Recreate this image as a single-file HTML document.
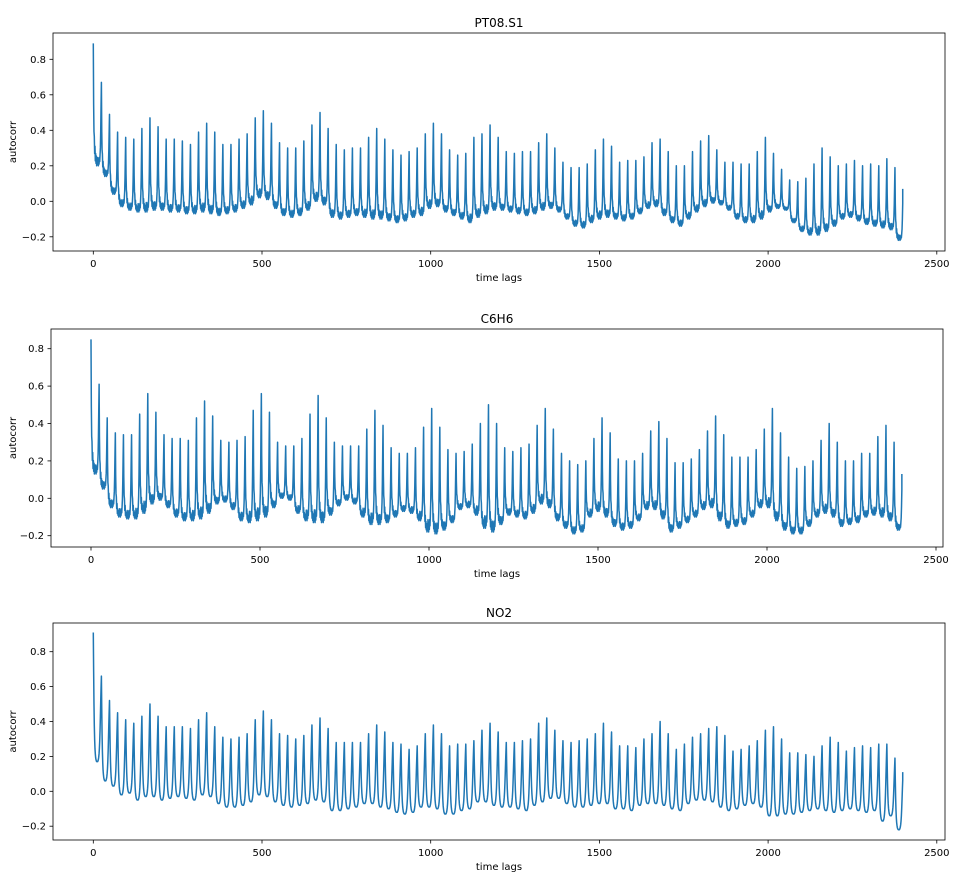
<!DOCTYPE html>
<html><head><meta charset="utf-8">
<style>
html,body{margin:0;padding:0;background:#fff;}
svg{display:block;font-family:"DejaVu Sans","Liberation Sans",sans-serif;}
</style></head>
<body>
<svg id="fig" width="972" height="896" viewBox="0 0 972 896" xmlns="http://www.w3.org/2000/svg"></svg>
<script>
// ---- data ----
const xTicks = [0, 500, 1000, 1500, 2000, 2500];
const yTicks = [-0.2, 0.0, 0.2, 0.4, 0.6, 0.8];
const titles = ["PT08.S1", "C6H6", "NO2"];

const peaksPT = [0.89,
 0.67,0.49,0.39,0.36,0.35,0.41,0.47,0.42,0.35,0.35,0.34,0.32,0.39,0.44,0.39,0.32,0.32,0.35,0.38,0.47,
 0.51,0.44,0.33,0.30,0.30,0.34,0.43,0.50,0.41,0.32,0.29,0.30,0.30,0.36,0.41,0.35,0.29,0.26,0.28,0.30,
 0.38,0.44,0.38,0.29,0.26,0.27,0.36,0.38,0.43,0.36,
 0.28,0.27,0.28,0.28,0.33,0.38,0.30,0.22,0.19,0.19,0.21,0.29,0.35,0.31,0.22,0.23,0.23,0.25,0.33,0.35,
 0.28,0.20,0.20,0.28,0.34,0.37,0.29,0.22,0.22,0.21,0.21,0.28,0.36,0.27,0.18,0.12,0.11,0.13,0.21,0.30,
 0.25,0.20,0.21,0.23,0.20,0.21,0.20,0.24,0.19];
const troughsPT = [0.20,0.14,0.04,-0.03,
 -0.05,-0.06,-0.06,-0.05,-0.05,-0.06,-0.06,-0.07,-0.07,-0.06,-0.07,-0.08,-0.07,-0.06,
 -0.04,-0.02,0.02,0.01,
 -0.04,-0.08,-0.09,-0.08,-0.05,0.00,-0.02,
 -0.09,-0.10,-0.09,-0.08,-0.09,-0.10,-0.10,-0.11,-0.12,-0.11,-0.09,-0.08,
 -0.04,-0.03,-0.06,-0.08,
 -0.10,-0.12,-0.09,-0.07,-0.05,-0.05,
 -0.06,-0.07,-0.08,-0.07,-0.05,-0.04,-0.06,
 -0.10,-0.14,-0.15,-0.12,-0.10,-0.09,-0.10,-0.11,-0.10,
 -0.07,-0.04,-0.03,
 -0.08,-0.12,-0.14,-0.10,-0.06,
 -0.03,-0.01,-0.02,-0.05,
 -0.10,-0.12,-0.12,-0.10,
 -0.06,-0.04,-0.05,
 -0.12,-0.17,-0.19,-0.19,-0.17,-0.14,
 -0.10,-0.09,-0.11,-0.13,
 -0.14,-0.15,-0.16,-0.22];
const endPT = 0.07;

const peaksC6 = [0.85,
 0.61,0.43,0.35,0.34,0.34,0.45,0.56,0.46,0.34,0.32,0.32,0.31,0.43,0.52,0.44,0.31,0.30,0.31,0.33,0.47,
 0.56,0.46,0.30,0.28,0.28,0.32,0.45,0.55,0.43,0.30,0.28,0.28,0.28,0.37,0.47,0.39,0.27,0.24,0.24,0.27,
 0.38,0.48,0.38,0.26,0.24,0.25,0.29,0.40,0.50,0.40,
 0.27,0.25,0.27,0.29,0.39,0.48,0.37,0.24,0.20,0.18,0.20,0.32,0.43,0.35,0.21,0.20,0.20,0.24,0.36,0.41,
 0.32,0.19,0.19,0.21,0.26,0.36,0.44,0.34,0.22,0.22,0.22,0.26,0.37,0.48,0.35,0.22,0.16,0.17,0.20,0.31,
 0.40,0.30,0.20,0.20,0.24,0.24,0.33,0.39,0.30];
const troughsC6 = [0.13,0.05,-0.05,-0.10,-0.11,-0.11,-0.08,-0.03,-0.01,-0.05,
 -0.10,-0.12,-0.12,-0.11,-0.08,-0.03,-0.02,-0.06,-0.12,-0.13,
 -0.12,-0.10,-0.05,0.00,-0.01,-0.08,-0.12,-0.13,-0.13,-0.09,
 -0.04,-0.01,-0.03,-0.10,-0.14,-0.14,-0.13,-0.10,-0.07,-0.08,
 -0.12,-0.18,-0.19,-0.17,-0.13,-0.06,-0.05,-0.09,-0.16,-0.18,-0.14,
 -0.09,-0.10,-0.11,-0.08,-0.03,-0.05,-0.12,-0.16,-0.19,-0.18,
 -0.10,-0.07,-0.10,-0.15,-0.17,-0.16,-0.12,-0.06,-0.06,-0.11,
 -0.18,-0.16,-0.13,-0.10,-0.06,-0.05,-0.12,-0.16,-0.15,-0.14,
 -0.10,-0.05,-0.05,-0.12,-0.17,-0.19,-0.19,-0.15,-0.10,-0.08,
 -0.10,-0.15,-0.14,-0.13,-0.10,-0.09,-0.10,-0.12,-0.17];
const endC6 = 0.13;

const peaksNO2 = [0.91,
 0.66,0.52,0.45,0.41,0.39,0.43,0.50,0.43,0.37,0.37,0.37,0.36,0.41,0.45,0.37,0.31,0.30,0.31,0.33,0.41,
 0.46,0.41,0.33,0.32,0.30,0.32,0.38,0.42,0.36,0.28,0.28,0.28,0.28,0.33,0.38,0.34,0.28,0.27,0.24,0.26,
 0.33,0.38,0.33,0.26,0.27,0.27,0.29,0.35,0.39,0.34,
 0.28,0.28,0.29,0.30,0.39,0.42,0.35,0.29,0.28,0.29,0.30,0.33,0.39,0.34,0.26,0.26,0.25,0.30,0.33,0.40,
 0.33,0.24,0.27,0.31,0.33,0.36,0.37,0.32,0.23,0.24,0.26,0.29,0.35,0.37,0.30,0.22,0.22,0.21,0.20,0.26,
 0.31,0.28,0.23,0.25,0.26,0.25,0.27,0.27,0.19];
const troughsNO2 = [0.17,0.06,0.03,-0.02,-0.01,-0.05,-0.03,-0.03,-0.05,-0.04,
 -0.03,-0.04,-0.05,-0.02,-0.03,-0.07,-0.09,-0.09,-0.08,-0.06,
 -0.02,-0.03,-0.06,-0.08,-0.09,-0.08,-0.07,-0.05,-0.06,-0.11,
 -0.11,-0.10,-0.09,-0.07,-0.07,-0.09,-0.10,-0.12,-0.13,-0.12,
 -0.09,-0.09,-0.10,-0.13,-0.13,-0.11,-0.10,-0.06,-0.06,-0.08,-0.09,
 -0.09,-0.10,-0.11,-0.08,-0.06,-0.04,-0.04,-0.07,-0.09,-0.09,
 -0.08,-0.07,-0.07,-0.10,-0.10,-0.11,-0.08,-0.07,-0.07,-0.08,
 -0.10,-0.11,-0.07,-0.05,-0.05,-0.06,-0.09,-0.11,-0.10,-0.08,
 -0.07,-0.09,-0.14,-0.14,-0.13,-0.13,-0.12,-0.11,-0.10,-0.11,
 -0.12,-0.11,-0.10,-0.11,-0.12,-0.11,-0.17,-0.14,-0.22];
const endNO2 = 0.11;

// ---- cycle shape templates (style only) ----
const PERIOD = 24, LAST = 2399, HALF = 12;
const jagged = [1,0.5,0.28,0.24,0.1,0.16,0.04,0.1,0.02,0.08,0,0.06,0.03,0.1,0.04,0.0,0.08,0.02,0.1,0.05,0.13,0.22,0.42,0.72];
const smooth = [1,0.7,0.45,0.28,0.17,0.1,0.06,0.03,0.015,0.005,0,0,0,0,0.01,0.025,0.05,0.09,0.15,0.24,0.37,0.53,0.7,0.86];

const panels = [
  {name:"pt08-s1", title:titles[0], peaks:peaksPT, troughs:troughsPT, end:endPT, tpl:jagged,
   L:53, R:945, T:33, B:251, x0:93.3, x500:262, y0:201.3, yU:177.5},
  {name:"c6h6", title:titles[1], peaks:peaksC6, troughs:troughsC6, end:endC6, tpl:jagged,
   L:51, R:943, T:329, B:547, x0:91, x500:260, y0:498.3, yU:187},
  {name:"no2", title:titles[2], peaks:peaksNO2, troughs:troughsNO2, end:endNO2, tpl:smooth,
   L:53, R:945, T:623, B:840, x0:93.3, x500:262, y0:791.3, yU:174.5}
];

const NS = "http://www.w3.org/2000/svg";
const svg = document.getElementById("fig");
function mk(tag, attrs, parent){
  const e = document.createElementNS(NS, tag);
  for (const k in attrs) e.setAttribute(k, attrs[k]);
  (parent||svg).appendChild(e);
  return e;
}
function fmt(v){ const s = Math.abs(v).toFixed(1); return (v < -1e-9 ? "\u2212" : "") + s; }

panels.forEach(p => {
  const xs = v => p.x0 + (p.x500 - p.x0) * v / 500;
  const ys = v => p.y0 - p.yU * v;
  const g = mk("g", {});
  
  

  // series
  let d = "";
  const n = p.peaks.length;
  for (let k = 0; k < n; k++) {
    const pk = p.peaks[k], tr = p.troughs[k];
    const nextPk = k + 1 < n ? p.peaks[k + 1] : p.end;
    for (let t = 0; t < PERIOD; t++) {
      const lag = k * PERIOD + t;
      if (lag > LAST) break;
      const top = t < HALF ? pk : nextPk;
      const v = tr + (top - tr) * p.tpl[t];
      d += (d ? "L" : "M") + xs(lag).toFixed(2) + "," + ys(v).toFixed(2);
    }
  }
  d += "L" + xs(LAST).toFixed(2) + "," + ys(p.end).toFixed(2);
  const clip = mk("clipPath", {id: "clip-" + p.name}, g);
  mk("rect", {x:p.L, y:p.T, width:p.R-p.L, height:p.B-p.T}, clip);
  const line = mk("path", {d:d, fill:"none", stroke:"#1f77b4", "stroke-width":1.5, "stroke-linejoin":"round", "clip-path":"url(#clip-"+p.name+")"}, g);
  
  

  // frame
  const frame = mk("rect", {x:p.L, y:p.T, width:p.R-p.L, height:p.B-p.T, fill:"none", stroke:"#000", "stroke-width":0.8}, g);
  
  

  // x ticks
  xTicks.forEach(v => {
    const x = xs(v);
    mk("line", {x1:x, x2:x, y1:p.B, y2:p.B+3.5, stroke:"#000", "stroke-width":0.8}, g);
    const t = mk("text", {x:x, y:p.B+16, "font-size":10, "text-anchor":"middle", fill:"#000"}, g);
    t.textContent = String(v);
    
    
  });
  // y ticks
  yTicks.forEach(v => {
    const y = ys(v);
    mk("line", {x1:p.L-3.5, x2:p.L, y1:y, y2:y, stroke:"#000", "stroke-width":0.8}, g);
    const t = mk("text", {x:p.L-7, y:y+3.5, "font-size":10, "text-anchor":"end", fill:"#000"}, g);
    t.textContent = fmt(v);
    
    
  });
  // title & labels
  const tt = mk("text", {x:(p.L+p.R)/2, y:p.T-6, "font-size":12, "text-anchor":"middle", fill:"#000"}, g);
  tt.textContent = p.title;
  
  
  const xl = mk("text", {x:(p.L+p.R)/2, y:p.B+30, "font-size":10, "text-anchor":"middle", fill:"#000"}, g);
  xl.textContent = "time lags";
  
  
  const yc = (p.T+p.B)/2;
  const yl = mk("text", {x:16, y:yc, "font-size":10, "text-anchor":"middle", fill:"#000", transform:"rotate(-90 16 "+yc+")"}, g);
  yl.textContent = "autocorr";
  
  
});
</script>
</body></html>
